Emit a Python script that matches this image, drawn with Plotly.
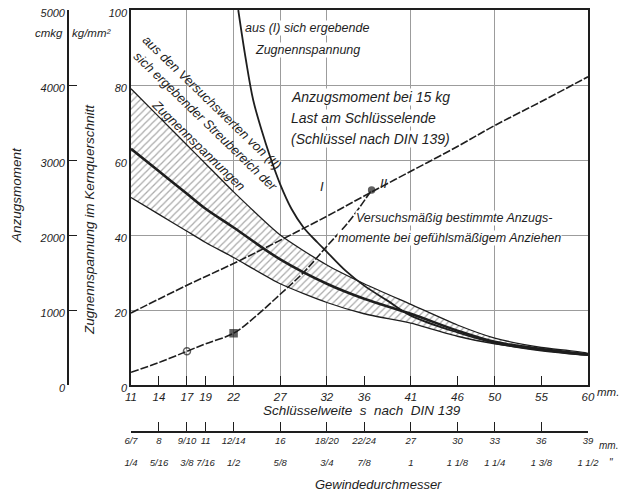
import plotly.graph_objects as go

# ---------------- data ----------------
s_ticks = [11, 14, 17, 19, 22, 27, 32, 36, 41, 46, 50, 55, 60]
s_grid = [17, 22, 27, 32, 41, 50]
thread_mm = ["6/7", "8", "9/10", "11", "12/14", "16", "18/20", "22/24", "27", "30", "33", "36", "39"]
thread_inch = ["1/4", "5/16", "3/8", "7/16", "1/2", "5/8", "3/4", "7/8", "1", "1 1/8", "1 1/4", "1 3/8", "1 1/2"]

stress_ticks = [0, 20, 40, 60, 80, 100]
moment_ticks = [0, 1000, 2000, 3000, 4000, 5000]

# scatter band of the tensile stress (kg/mm2) from test values (II)
band_s = [11, 14, 17, 19, 22, 27, 32, 36, 41, 46, 50, 55, 60]
band_upper = [79, 71.5, 64, 59, 51.5, 40, 32, 27, 21.5, 16, 12.5, 10, 8.4]
band_mid = [63, 57, 51, 47, 42, 33.5, 27, 23, 19, 14.5, 11.5, 9.6, 8.2]
band_lower = [50, 45.5, 41, 38, 34, 27, 22, 19, 16.5, 13, 11, 9.3, 8.0]

# tensile stress resulting from (I), kg/mm2
steep_s = [22.5, 23.3, 24.1, 25, 25.9, 27, 28.2, 29.5, 31, 32, 34, 36, 38.5, 41, 46, 50, 55, 60]
steep_v = [100, 87, 76, 68, 61, 53.5, 47, 42, 38, 35.5, 30.5, 26.5, 22.5, 18.5, 14, 11.2, 9.2, 8.0]

# (I) tightening torque at 15 kg load on spanner end, cmkg
m1_s = [11, 17, 22, 27, 32, 36, 41, 46, 50, 55, 60]
m1_v = [960, 1330, 1620, 1930, 2250, 2520, 2850, 3180, 3460, 3780, 4110]

# (II) measured tightening torques, cmkg
m2_s = [11, 14, 17, 19, 22, 24.5, 27, 29.5, 32, 34.5, 36.8]
m2_v = [170, 300, 450, 550, 690, 930, 1210, 1500, 1850, 2200, 2600]
m2_marked = [2, 4, 10]

# ---------------- layout helpers ----------------
# the page body has an 8px margin; figure is sized so that it fills the window
OX, OY = 8, 8
W, H = 629, 490
ML, MR, MT, MB = 52, 49, 2, 2
PW, PH = W - ML - MR, H - MT - MB


def px(X):  # page pixel -> paper fraction
    return (X - OX - ML) / PW


def py(Y):
    return (H - MB - (Y - OY)) / PH


INK = "#1e1e1e"
GRID = "#9c9c9c"
FONT = "Liberation Sans"

fig = go.Figure()

# hatched band
fig.add_trace(go.Scatter(
    x=band_s + band_s[::-1], y=band_upper + band_lower[::-1],
    mode="lines", fill="toself", line=dict(color=INK, width=1.3, shape="spline", smoothing=0.6),
    fillcolor="rgba(0,0,0,0)",
    fillpattern=dict(shape="/", size=5, solidity=0.25, fgcolor="#555", bgcolor="white"),
    hoverinfo="skip", showlegend=False))

fig.add_trace(go.Scatter(x=band_s, y=band_mid, mode="lines",
                         line=dict(color=INK, width=2.6, shape="spline"), showlegend=False))

fig.add_trace(go.Scatter(x=steep_s, y=steep_v, mode="lines",
                         line=dict(color=INK, width=1.8, shape="spline"), showlegend=False))

fig.add_trace(go.Scatter(x=m1_s, y=m1_v, yaxis="y2", mode="lines",
                         line=dict(color=INK, width=1.6, dash="8px,2px", shape="spline"), showlegend=False))

fig.add_trace(go.Scatter(x=m2_s, y=m2_v, yaxis="y2", mode="lines",
                         line=dict(color=INK, width=1.6, dash="8px,2px", shape="spline"), showlegend=False))

fig.add_trace(go.Scatter(x=[m2_s[i] for i in m2_marked], y=[m2_v[i] for i in m2_marked], yaxis="y2",
                         mode="markers",
                         marker=dict(symbol=["circle-open", "square", "circle"], size=[7, 7, 6],
                                     color=INK, line=dict(color=INK, width=1.5)),
                         showlegend=False))

# helper traces so that the extra axes get drawn
for ax in ["x2", "x3", "x4"]:
    fig.add_trace(go.Scatter(x=[None], y=[None], xaxis=ax, yaxis="y", showlegend=False))

xr = [11, 60]
fig.update_layout(
    width=W, height=H,
    margin=dict(l=ML, r=MR, t=MT, b=MB, autoexpand=False),
    paper_bgcolor="white", plot_bgcolor="white",
    font=dict(family=FONT, size=11, color=INK, style="italic"),
    showlegend=False,
    xaxis=dict(domain=[px(131), px(588)], range=xr, tickvals=s_ticks, ticktext=[str(v) for v in s_ticks],
               ticks="inside", ticklen=9, tickwidth=1.3, tickcolor=INK, tickangle=0, automargin=False,
               showgrid=False, zeroline=False, showline=True, linecolor=INK, linewidth=1.6,
               mirror=True, tickfont=dict(size=11.5), ticklabeloverflow="allow"),
    xaxis2=dict(overlaying="x", anchor="free", position=py(432), range=xr, tickvals=s_ticks,
                ticktext=thread_mm, ticks="inside", ticklen=9, tickwidth=1.3, tickcolor=INK,
                tickangle=0, showgrid=False, zeroline=False, showline=True, linecolor=INK,
                linewidth=1.6, tickfont=dict(size=9.5), automargin=False, ticklabeloverflow="allow"),
    xaxis3=dict(overlaying="x", anchor="free", position=py(455), range=xr, tickvals=s_ticks,
                ticktext=thread_inch, ticks="", tickangle=0, showgrid=False, zeroline=False,
                showline=False, tickfont=dict(size=9.5), automargin=False, ticklabeloverflow="allow"),
    xaxis4=dict(overlaying="x", anchor="y", range=xr, tickvals=s_grid, showticklabels=False,
                ticks="", showgrid=True, gridcolor=GRID, gridwidth=1.3, zeroline=False, showline=False,
                automargin=False),
    yaxis=dict(domain=[py(385), py(10)], range=[0, 100], tickvals=stress_ticks,
               ticktext=[str(v) for v in stress_ticks], ticks="", showgrid=True, gridcolor=GRID,
               gridwidth=1.3, zeroline=False, showline=True, linecolor=INK, linewidth=1.6,
               mirror=True, tickfont=dict(size=11), automargin=False,
               ticklabeloverflow="allow", ticklabelshift=3),
    yaxis2=dict(overlaying="y", anchor="free", position=px(68), side="left", range=[0, 5000],
                tickvals=moment_ticks, ticktext=[str(v) for v in moment_ticks],
                ticks="inside", ticklen=8, tickwidth=1.3, tickcolor=INK, showgrid=False,
                zeroline=False, showline=True, linecolor=INK, linewidth=1.6, tickfont=dict(size=11),
                automargin=False, ticklabeloverflow="allow", ticklabelshift=3),
)


def note(text, x, y, size=11, xanchor="left", angle=0, bg=None):
    fig.add_annotation(text=text, x=px(x), y=py(y), xref="paper", yref="paper",
                       xanchor=xanchor, yanchor="middle", showarrow=False, textangle=angle,
                       font=dict(size=size, family=FONT, color=INK, style="italic"),
                       bgcolor=bg, borderpad=0)


note("aus (I) sich ergebende", 244, 28, 12.5, bg="white")
note("Zugnennspannung", 254, 50, 12.5, bg="white")
note("Anzugsmoment bei 15 kg", 290, 97, 14, bg="white")
note("Last am Schlüsselende", 290, 118, 14, bg="white")
note("(Schlüssel nach DIN 139)", 290, 139, 14, bg="white")
note("Versuchsmäßig bestimmte Anzugs-", 355, 218, 12.5, bg="white")
note("momente bei gefühlsmäßigem Anziehen", 337, 238, 12.5, bg="white")
note("aus den Versuchswerten von (II)", 212, 102, 13, "center", 44)
note("sich ergebender Streubereich der", 206, 121, 13, "center", 44)
note("Zugnennspannungen", 199, 145, 13, "center", 44)
note("I", 322, 186, 13, "center")
note("II", 384, 183, 13, "center")
note("cmkg", 64, 33, 11.5, "right")
note("kg/mm²", 71, 33, 11.5, "left")
note("Anzugsmoment", 16, 195, 13.5, "center", -90)
note("Zugnennspannung im Kernquerschnitt", 89, 220, 13.5, "center", -90)
note("Schlüsselweite  s  nach  DIN 139", 362, 410, 13.5, "center")
note("mm.", 596, 392, 11.5, "left")
note("mm.", 598, 445, 10, "left")
note("\"", 608, 462, 10, "left")
note("Gewindedurchmesser", 378, 484, 13, "center")

fig.write_html("out.html")
